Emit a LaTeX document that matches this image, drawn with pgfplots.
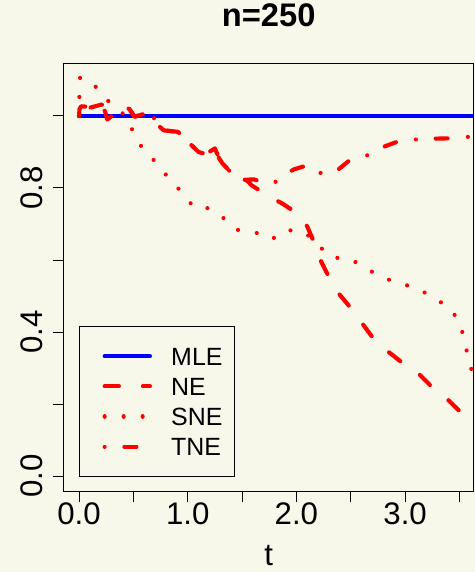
\documentclass[border=0pt]{standalone}
\usepackage{fontspec}
\setmainfont{Liberation Sans}
\usepackage{pgfplots}
\pgfplotsset{compat=1.18}
\definecolor{bgc}{RGB}{247,247,234}

\begin{document}
\begin{tikzpicture}
\fill[bgc] (-47.5pt,-60.2pt) rectangle (308.75pt,368.8pt);
\begin{axis}[
  at={(0,0)}, anchor=south west,
  scale only axis, width=308pt, height=320.8pt,
  xmin=-0.1444, xmax=3.634, ymin=-0.0436, ymax=1.1444,
  axis line style={line width=0.75pt},
  tick align=outside, major tick length=8pt,
  tick style={line width=0.75pt, black},
  xtick pos=left, ytick pos=left,
  xtick={0,0.5,1,1.5,2,2.5,3,3.5},
  xticklabels={0.0,,1.0,,2.0,,3.0,},
  ytick={0,0.2,0.4,0.6,0.8,1.0},
  yticklabels={0.0,,0.4,,0.8,},
  ticklabel style={font=\fontsize{23.4}{23.4}\selectfont, inner sep=0pt},
  xticklabel style={anchor=north},
  yticklabel style={rotate=90, anchor=south},
  yticklabel shift=7.5pt,
  title={n=250},
  title style={font=\fontsize{24.5}{24.5}\selectfont\bfseries,
    at={(rel axis cs:0.5,1)}, anchor=base, yshift=21.75pt, inner sep=0pt},
  xlabel={t},
  xlabel style={font=\fontsize{23.4}{23.4}\selectfont,
    at={(rel axis cs:0.5,0)}, anchor=base, yshift=-55.5pt, inner sep=0pt},
  every axis plot/.append style={line width=3.1pt, line cap=round, line join=round},
  legend style={
    at={(rel axis cs:0,0)}, anchor=south west, xshift=11.55pt, yshift=11pt,
    draw=black, line width=0.75pt, fill=bgc,
    inner xsep=9pt, inner ysep=15.8pt,
    row sep=9.2pt, column sep=14.4pt,
    font=\fontsize{18.7}{18.7}\selectfont,
    nodes={inner sep=0pt, text height=13.4pt, text depth=0pt},
  },
  legend cell align=left,
  legend image code/.code={\path (0pt,0pt); \draw[#1] (8.5pt,0pt) -- (42.5pt,0pt);},
]
% maximum likelihood estimate
\addplot[blue] coordinates {(0,1) (3.7,1)};
\addlegendentry{MLE}

% NE
\addplot[red, dash pattern=on 10.7pt off 18pt] coordinates {
(0,1.000) (0.005,1.020) (0.02,1.027) (0.06,1.026) (0.10,1.023)
(0.21,1.032) (0.24,1.012) (0.26,0.990) (0.315,1.004) (0.40,1.012)
(0.46,1.021) (0.51,0.998) (0.61,1.007) (0.68,1.000) (0.72,0.976)
(0.78,0.960) (0.91,0.956) (1.00,0.929) (1.10,0.900) (1.165,0.894)
(1.25,0.910) (1.29,0.882) (1.32,0.868) (1.355,0.857) (1.46,0.822)
(1.55,0.820) (1.585,0.808) (1.75,0.776) (1.87,0.757) (2.03,0.725)
(2.10,0.693) (2.18,0.637) (2.23,0.594) (2.33,0.535) (2.40,0.503)
(2.53,0.456) (2.61,0.422) (2.74,0.369) (2.85,0.344) (3.02,0.304)
(3.13,0.283) (3.28,0.237) (3.39,0.213) (3.54,0.169) (3.65,0.138)
};
\addlegendentry{NE}

% SNE
\addplot[red, dash pattern=on 0.01pt off 14.25pt] coordinates {
(0,1.000) (0.003,1.054) (0.01,1.107) (0.13,1.090) (0.23,1.052)
(0.35,1.020) (0.45,0.995) (0.507,0.947) (0.60,0.903) (0.72,0.868)
(0.83,0.825) (0.95,0.787) (1.06,0.745) (1.19,0.744) (1.32,0.719)
(1.45,0.684) (1.62,0.677) (1.77,0.657) (1.91,0.684) (2.08,0.676)
(2.32,0.607) (2.49,0.604) (2.64,0.577) (2.79,0.551) (2.96,0.535)
(3.12,0.520) (3.27,0.494) (3.42,0.465) (3.51,0.421) (3.55,0.369)
(3.59,0.317) (3.65,0.255)
};
\addlegendentry{SNE}

% TNE
\addplot[red, dash pattern=on 0.01pt off 14.8pt on 9pt off 15.2pt] coordinates {
(0,1.000) (0.005,1.020) (0.02,1.027) (0.06,1.026) (0.10,1.023)
(0.21,1.032) (0.24,1.012) (0.26,0.990) (0.315,1.004) (0.40,1.012)
(0.46,1.021) (0.51,0.998) (0.61,1.007) (0.68,1.000) (0.72,0.976)
(0.78,0.960) (0.91,0.956) (1.00,0.929) (1.10,0.900) (1.165,0.894)
(1.25,0.910) (1.29,0.882) (1.32,0.868) (1.355,0.857) (1.46,0.822)
(1.61,0.824) (1.745,0.810) (1.80,0.815) (1.88,0.836) (1.98,0.852)
(2.11,0.864) (2.20,0.845) (2.25,0.838) (2.38,0.850) (2.51,0.882)
(2.67,0.892) (2.79,0.913) (2.95,0.931) (3.11,0.935) (3.26,0.937)
(3.43,0.938) (3.65,0.944)
};
\addlegendentry{TNE}
\end{axis}
\pgfresetboundingbox
\path[use as bounding box] (-47.5pt,-60.2pt) rectangle (308.75pt,368.8pt);
\end{tikzpicture}
\end{document}
